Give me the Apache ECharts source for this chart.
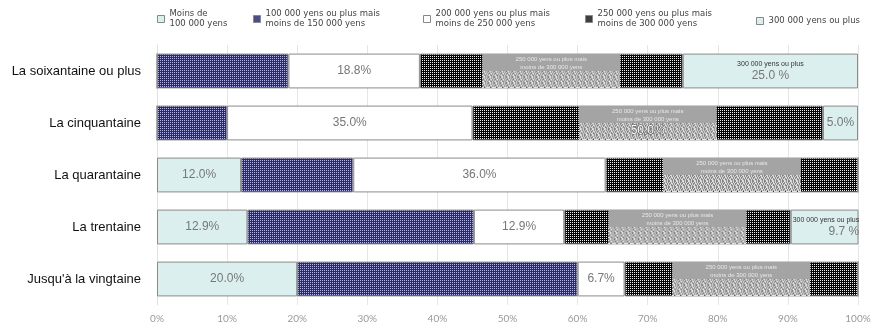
<!DOCTYPE html>
<html><head><meta charset="utf-8">
<script src="https://cdn.jsdelivr.net/npm/echarts@6/dist/echarts.min.js"></script>
<style>html,body{margin:0;padding:0;background:#fff}#c{width:878px;height:328px}</style>
</head><body><div id="c"></div>
<script>
const categories = ["La soixantaine ou plus", "La cinquantaine", "La quarantaine", "La trentaine", "Jusqu'à la vingtaine"];
const seriesNames = ["Moins de 100 000 yens", "100 000 yens ou plus mais moins de 150 000 yens", "200 000 yens ou plus mais moins de 250 000 yens", "250 000 yens ou plus mais moins de 300 000 yens", "300 000 yens ou plus"];
const lt100 = [0, 0, 12.0, 12.9, 20.0];
const s100to150 = [18.75, 10.0, 16.0, 32.3, 40.0];
const s200to250 = [18.75, 35.0, 36.0, 12.9, 6.7];
const s250to300 = [37.5, 50.0, 36.0, 32.3, 33.3];
const s300plus = [25.0, 5.0, 0, 9.7, 0];
const xTicks = [0, 10, 20, 30, 40, 50, 60, 70, 80, 90, 100];

function makePattern(w, h, tile, bg, fg, cells) {
  const c = document.createElement('canvas');
  c.width = w; c.height = h;
  const g = c.getContext('2d');
  g.fillStyle = bg; g.fillRect(0, 0, w, h);
  g.fillStyle = fg;
  for (let y = 0; y < h; y += tile) for (let x = 0; x < w; x += tile)
    cells.forEach(p => g.fillRect(x + p[0], y + p[1], 1, 1));
  return c;
}
const bluePat = makePattern(4, 4, 4, '#2a2a72', '#b8b8dc', [[0,0],[2,0],[0,2],[2,2]]);
const darkPat = makePattern(4, 4, 4, '#050505', '#eeeeee', [[0,0],[2,0],[0,2],[2,2]]);
const noisePat = makePattern(138, 17, 6, '#e2e2e2', '#222222', [[0,0],[3,1],[1,2],[4,3],[2,4],[5,5],[0,3],[3,5],[5,1]]);

const LIGHT = '#dcefef';
const fmt = v => v.toFixed(1) + '%';
const pctColor = '#777';

function seriesBase(name, data, color) {
  return {
    name: name, type: 'bar', stack: 'total', barWidth: '67%',
    data: data,
    itemStyle: { color: color, borderColor: '#8a8a8a', borderWidth: 1 },
    emphasis: { disabled: true }
  };
}

const sLt = seriesBase(seriesNames[0], lt100.map(v => ({
  value: v,
  label: { show: v > 0, formatter: p => fmt(p.value), color: pctColor, fontSize: 12, fontFamily: 'Liberation Sans' }
})), LIGHT);

const sBlue = seriesBase(seriesNames[1], s100to150.slice(), { image: bluePat, repeat: 'repeat' });

const sWhite = seriesBase(seriesNames[2], s200to250.map(v => ({
  value: v,
  label: { show: true, formatter: p => fmt(p.value), color: pctColor, fontSize: 12, fontFamily: 'Liberation Sans' }
})), '#ffffff');

const darkValueShown = [false, true, false, false, false];
const sDark = seriesBase(seriesNames[3], s250to300.map((v, i) => ({
  value: v,
  label: {
    show: true, position: 'inside',
    formatter: p => '{b|250 000 yens ou plus mais}\n{b|moins de 300 000 yens}\n{n|' + (darkValueShown[i] ? fmt(p.value) : '') + '}',
    rich: {
      b: { backgroundColor: '#a4a4a4', width: 138, height: 8, lineHeight: 8, fontSize: 6, color: '#e8e8e8', align: 'center', padding: [1, 0, 0, 0] },
      n: { backgroundColor: { image: noisePat }, width: 138, height: 17, lineHeight: 17, fontSize: 12, color: '#fff', align: 'center', textBorderColor: '#555', textBorderWidth: 1 }
    }
  }
})), { image: darkPat, repeat: 'repeat' });

const s300Style = [
  { header: true, pos: 'inside' },
  { header: false, pos: 'inside' },
  { header: false, pos: 'inside' },
  { header: true, pos: 'insideLeft' },
  { header: false, pos: 'inside' }
];
const sTop = seriesBase(seriesNames[4], s300plus.map((v, i) => {
  const st = s300Style[i];
  let label;
  if (st.header) {
    const val = v.toFixed(1) + ' %';
    label = {
      show: v > 0, position: st.pos, offset: st.pos === 'insideLeft' ? [-3, 0] : [0, 0],
      formatter: '{n|300 000 yens ou plus}\n{v|' + val + '}',
      rich: {
        n: { fontSize: 7, color: '#333', fontFamily: 'Liberation Sans', align: st.pos === 'insideLeft' ? 'left' : 'center', lineHeight: 10 },
        v: { fontSize: 12, color: pctColor, fontFamily: 'Liberation Sans', align: st.pos === 'insideLeft' ? 'right' : 'center', width: st.pos === 'insideLeft' ? 55 : undefined, lineHeight: 13 }
      }
    };
  } else {
    label = { show: v > 0, position: st.pos, formatter: p => fmt(p.value), color: pctColor, fontSize: 12, fontFamily: 'Liberation Sans' };
  }
  return { value: v, label: label };
}), LIGHT);

const legendLeft = [152, 248, 418, 580, 751];
const legendText = [
  'Moins de\n100 000 yens',
  '100 000 yens ou plus mais\nmoins de 150 000 yens',
  '200 000 yens ou plus mais\nmoins de 250 000 yens',
  '250 000 yens ou plus mais\nmoins de 300 000 yens',
  '300 000 yens ou plus'
];
const legends = seriesNames.map((n, i) => ({
  data: [n], left: legendLeft[i], top: i === 4 ? 11 : 4, orient: 'horizontal',
  itemWidth: 7, itemHeight: 7, itemGap: 2, icon: 'rect', selectedMode: false,
  formatter: () => legendText[i],
  textStyle: { fontSize: 8.5, color: '#444', lineHeight: 10, fontFamily: 'DejaVu Sans' },
  itemStyle: { borderColor: '#888', borderWidth: 1 }
}));

const chart = echarts.init(document.getElementById('c'), null, { renderer: 'canvas' });
chart.setOption({
  animation: false,
  backgroundColor: '#fff',
  legend: legends,
  grid: { left: 157, right: 20, top: 45, bottom: 23, containLabel: false },
  xAxis: {
    type: 'value', min: xTicks[0], max: xTicks[xTicks.length - 1], interval: 10,
    axisLabel: { formatter: '{value}%', color: '#9a9a9a', fontSize: 10, margin: 9, fontFamily: 'Lato' },
    axisLine: { show: false }, axisTick: { show: false },
    splitLine: { show: true, lineStyle: { color: '#e6e6e6', width: 1 } }
  },
  yAxis: {
    type: 'category', data: categories, inverse: true,
    axisLabel: { color: '#111', fontSize: 13, margin: 16, fontFamily: 'Liberation Sans' },
    axisLine: { show: true, lineStyle: { color: '#e0e0e0' } }, axisTick: { show: false }
  },
  series: [sLt, sBlue, sWhite, sDark, sTop]
});
</script></body></html>
